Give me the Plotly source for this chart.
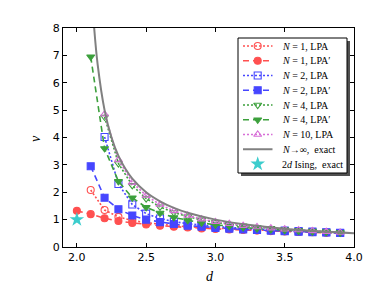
import plotly.graph_objects as go

# ---- data ----
d_from20 = [2.0, 2.1, 2.2, 2.3, 2.4, 2.5, 2.6, 2.7, 2.8, 2.9, 3.0, 3.1, 3.2, 3.3, 3.4, 3.5, 3.6, 3.7, 3.8, 3.9]
d_from21 = d_from20[1:]
d_from22 = d_from20[2:]

nu_N1_LPA = [2.08, 1.35, 1.10, 0.97, 0.89, 0.83, 0.78, 0.74, 0.71, 0.69, 0.66, 0.64, 0.62, 0.60, 0.58, 0.56, 0.55, 0.53, 0.51]
nu_N1_LPAp = [1.32, 1.20, 1.05, 0.95, 0.88, 0.82, 0.78, 0.74, 0.71, 0.68, 0.66, 0.64, 0.62, 0.60, 0.58, 0.57, 0.55, 0.54, 0.52, 0.51]
nu_N2_LPA = [4.02, 2.30, 1.55, 1.22, 1.04, 0.93, 0.85, 0.79, 0.75, 0.71, 0.68, 0.65, 0.62, 0.60, 0.58, 0.56, 0.54, 0.52]
nu_N2_LPAp = [2.95, 1.80, 1.38, 1.15, 1.00, 0.91, 0.84, 0.78, 0.74, 0.70, 0.67, 0.64, 0.62, 0.60, 0.58, 0.56, 0.54, 0.53, 0.51]
nu_N4_LPA = [4.75, 3.05, 2.25, 1.77, 1.47, 1.26, 1.11, 0.99, 0.90, 0.83, 0.77, 0.72, 0.68, 0.64, 0.61, 0.58, 0.56, 0.53]
nu_N4_LPAp = [6.95, 3.60, 2.40, 1.80, 1.45, 1.24, 1.08, 0.97, 0.88, 0.81, 0.76, 0.71, 0.67, 0.64, 0.61, 0.58, 0.56, 0.54, 0.52]
nu_N10_LPA = [4.85, 3.18, 2.36, 1.88, 1.55, 1.32, 1.15, 1.02, 0.92, 0.85, 0.78, 0.73, 0.69, 0.65, 0.62, 0.59, 0.56, 0.53]

d_exact = [2.125, 2.15, 2.2, 2.25, 2.3, 2.35, 2.4, 2.5, 2.6, 2.7, 2.8, 3.0, 3.25, 3.5, 3.75, 4.0]
nu_exact = [8.0, 6.67, 5.0, 4.0, 3.33, 2.86, 2.5, 2.0, 1.67, 1.43, 1.25, 1.0, 0.8, 0.667, 0.571, 0.5]

d_ising = [2.0]
nu_ising = [1.0]

x_ticks = [2.0, 2.5, 3.0, 3.5, 4.0]
x_tick_labels = ["2.0", "2.5", "3.0", "3.5", "4.0"]
y_ticks = [0, 1, 2, 3, 4, 5, 6, 7, 8]

legend_labels = [
    "<i>N</i> = 1, LPA", "<i>N</i> = 1, LPA′", "<i>N</i> = 2, LPA", "<i>N</i> = 2, LPA′",
    "<i>N</i> = 4, LPA", "<i>N</i> = 4, LPA′", "<i>N</i> = 10, LPA",
    "<i>N</i>→∞,  exact", "2<i>d</i> Ising,  exact",
]

RED = "rgb(255,80,80)"
BLUE = "rgb(70,70,255)"
GREEN = "rgb(60,160,60)"
MAG = "rgb(215,110,215)"
GRAY = "rgb(128,128,128)"
CYAN = "rgb(60,205,205)"
DOT = "2px,2px"
DASH = "6px,4px"

# (x, y, color, dash, symbol) per series, in legend order
series = [
    (d_from21, nu_N1_LPA, RED, DOT, "circle-open"),
    (d_from20, nu_N1_LPAp, RED, DASH, "circle"),
    (d_from22, nu_N2_LPA, BLUE, DOT, "square-open"),
    (d_from21, nu_N2_LPAp, BLUE, DASH, "square"),
    (d_from22, nu_N4_LPA, GREEN, DOT, "triangle-down-open"),
    (d_from21, nu_N4_LPAp, GREEN, DASH, "triangle-down"),
    (d_from22, nu_N10_LPA, MAG, DOT, "triangle-up-open"),
]

# figure geometry (page has an 8px body margin)
W, H = 358, 275
L, R, T, B = 55, 346, 20, 239
OFF = 8

def px(xw):
    return (xw - OFF - L) / (R - L)

def py(yw):
    return (B - (yw - OFF)) / (B - T)

fig = go.Figure()

for x, y, c, dash, sym in series:
    fig.add_trace(go.Scatter(
        x=x, y=y, mode="lines+markers", showlegend=False,
        line=dict(color=c, width=1.6, dash=dash),
        marker=dict(symbol=sym, size=7, color=c, line=dict(color=c, width=1.1)),
    ))

fig.add_trace(go.Scatter(
    x=d_exact, y=nu_exact, mode="lines", showlegend=False,
    line=dict(color=GRAY, width=2, shape="spline"),
))
fig.add_trace(go.Scatter(
    x=d_ising, y=nu_ising, mode="markers", showlegend=False,
    marker=dict(symbol="star", size=11, color=CYAN, line=dict(width=0)),
))

# ---- hand-drawn legend (on an overlay axis spanning the plot area in [0,1]) ----
box_l, box_r, box_t, box_b = 238, 347, 38, 173
row0, row_gap = 46.0, 14.75
ln_x0, ln_x1, mk_x, txt_x = 243, 272.5, 257.7, 279.5

shapes = [
    dict(type="rect", xref="paper", yref="paper", layer="below",
         x0=px(box_l + 3), x1=px(box_r + 3), y0=py(box_b + 3), y1=py(box_t + 3),
         fillcolor="rgb(80,80,80)", line=dict(width=0)),
    dict(type="rect", xref="paper", yref="paper", layer="below",
         x0=px(box_l), x1=px(box_r), y0=py(box_b), y1=py(box_t),
         fillcolor="white", line=dict(color="black", width=1)),
]

leg_styles = [(c, dash, sym) for _, _, c, dash, sym in series] + [(GRAY, "solid", None), (CYAN, None, "star")]
annotations = []
for i, (lab, (c, dash, sym)) in enumerate(zip(legend_labels, leg_styles)):
    yy = py(row0 + i * row_gap)
    if dash is not None:
        fig.add_trace(go.Scatter(
            x=[px(ln_x0), px(ln_x1)], y=[yy, yy], xaxis="x2", yaxis="y2",
            mode="lines", showlegend=False, hoverinfo="skip",
            line=dict(color=c, width=2 if sym is None else 1.6, dash=dash),
        ))
    if sym is not None:
        fig.add_trace(go.Scatter(
            x=[px(mk_x)], y=[yy], xaxis="x2", yaxis="y2",
            mode="markers", showlegend=False, hoverinfo="skip",
            marker=dict(symbol=sym, size=11 if sym == "star" else 7, color=c,
                        line=dict(color=c, width=0 if sym == "star" else 1.1)),
        ))
    annotations.append(dict(
        text=lab, x=px(txt_x), y=yy, xref="paper", yref="paper",
        xanchor="left", yanchor="middle", showarrow=False,
        font=dict(family="Liberation Serif", size=10, color="black"),
    ))

# axis titles
annotations.append(dict(text="<i>ν</i>", x=px(35), y=py(139), xref="paper", yref="paper",
                        xanchor="center", yanchor="middle", showarrow=False, textangle=-90,
                        font=dict(family="Liberation Serif", size=14, color="black")))
annotations.append(dict(text="<i>d</i>", x=px(210), y=py(276), xref="paper", yref="paper",
                        xanchor="center", yanchor="middle", showarrow=False,
                        font=dict(family="Liberation Serif", size=14, color="black")))

axis_common = dict(
    showline=True, linecolor="black", linewidth=1.2, mirror="ticks",
    ticks="inside", ticklen=4, tickcolor="black", showgrid=False, zeroline=False,
    tickfont=dict(family="DejaVu Sans", size=11, color="black"),
)

fig.update_layout(
    width=W, height=H,
    margin=dict(l=L, r=W - R, t=T, b=H - B, autoexpand=False),
    paper_bgcolor="white", plot_bgcolor="white",
    showlegend=False,
    shapes=shapes, annotations=annotations,
    xaxis=dict(range=[1.9, 4.0], tickvals=x_ticks, ticktext=x_tick_labels, **axis_common),
    yaxis=dict(range=[0, 8], tickvals=y_ticks, **axis_common),
    xaxis2=dict(overlaying="x", range=[0, 1], visible=False, fixedrange=True),
    yaxis2=dict(overlaying="y", range=[0, 1], visible=False, fixedrange=True),
)

fig.write_html("out.html")
